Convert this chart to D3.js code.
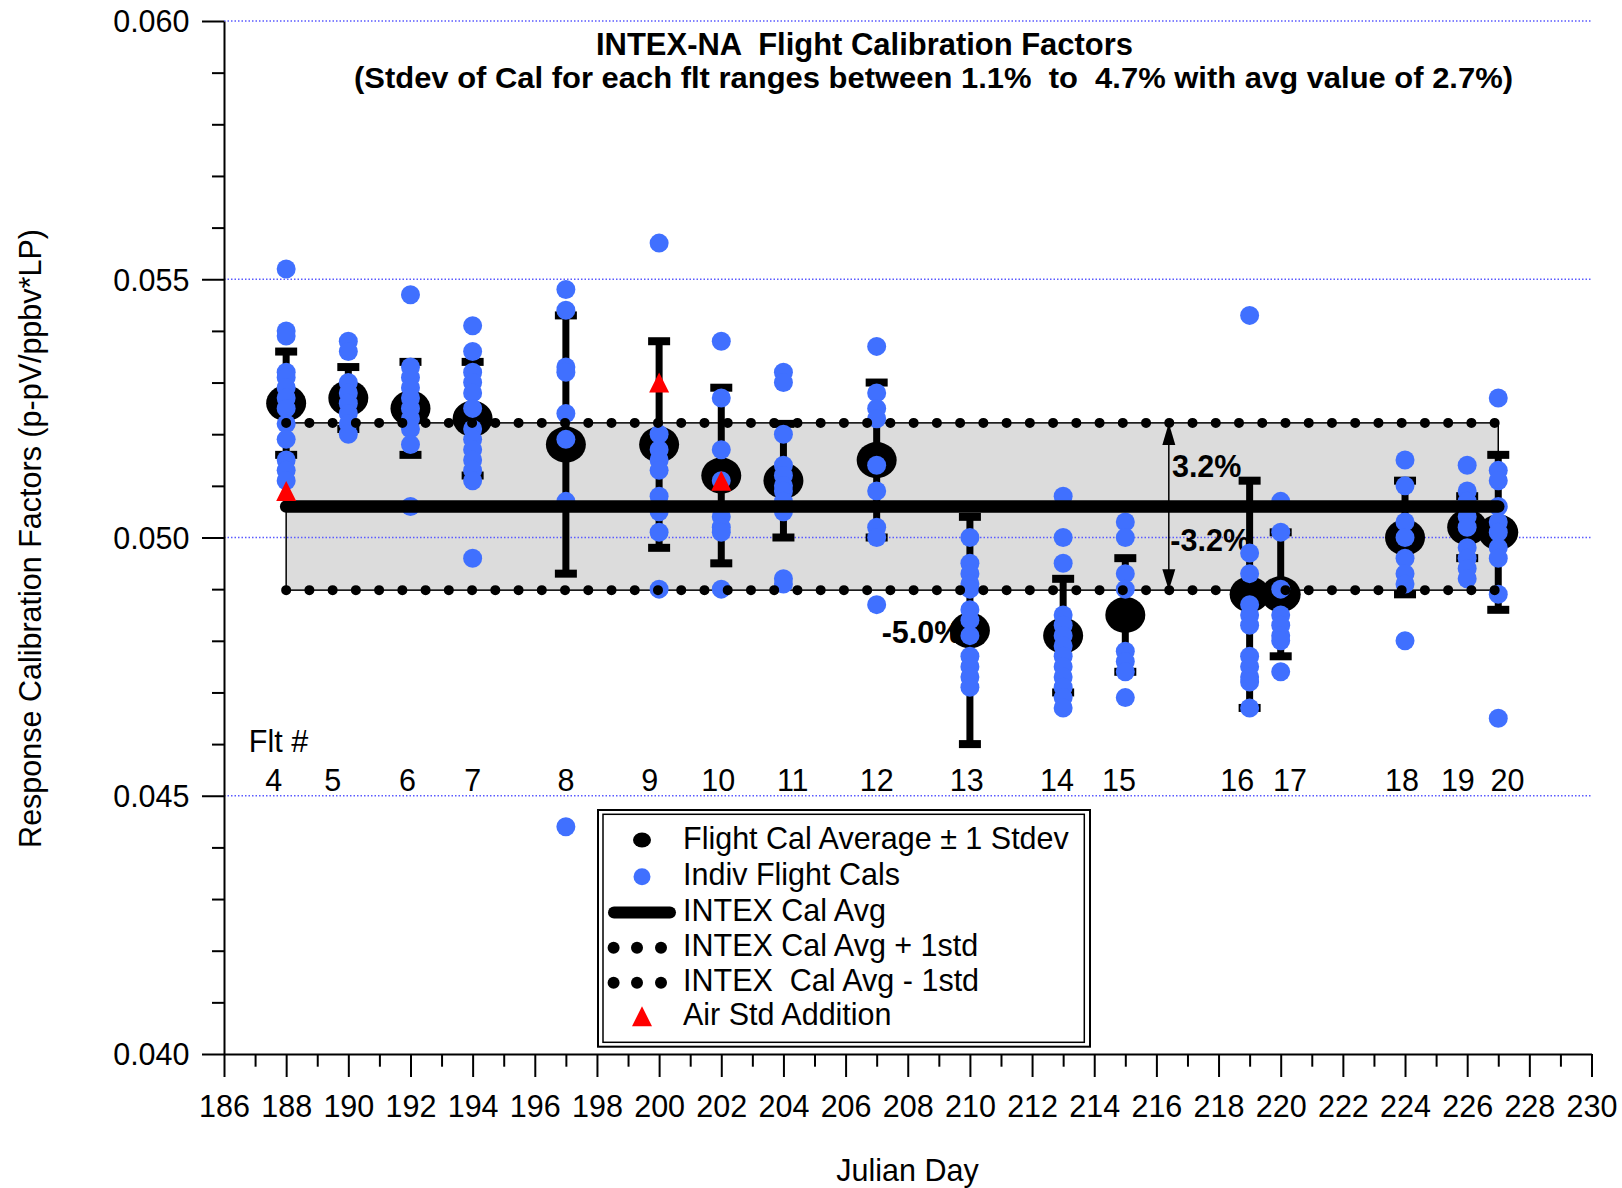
<!DOCTYPE html>
<html>
<head>
<meta charset="utf-8">
<script src="https://cdn.jsdelivr.net/npm/d3@7"></script>
<style>
  html, body { margin: 0; padding: 0; background: #ffffff; }
  svg { display: block; }
  text { font-family: "Liberation Sans", Arial, Helvetica, sans-serif; white-space: pre; }
</style>
</head>
<body>
<svg id="chart" width="1622" height="1188"></svg>
<script>
// ---- Flight calibration data (INTEX-NA) ----
const flightNumbers = [4, 5, 6, 7, 8, 9, 10, 11, 12, 13, 14, 15, 16, 17, 18, 19, 20];
const flightDays    = [188, 190, 192, 194, 197, 200, 202, 204, 207, 210, 213, 215, 219, 220, 224, 226, 227];
// Julian-day position of each flight-number label
const flightLabelDays = [187.6, 189.5, 191.9, 194.0, 197.0, 199.7, 201.9, 204.3, 207.0, 209.9,
                         212.8, 214.8, 218.6, 220.3, 223.9, 225.7, 227.3];

// Flight calibration average and 1 standard deviation
const calAverage = [0.0526, 0.0527, 0.0525, 0.0523, 0.0518, 0.0518, 0.0512, 0.0511, 0.0515,
                    0.0482, 0.0481, 0.0485, 0.0489, 0.0489, 0.0500, 0.0502, 0.0501];
const calStdev   = [0.0010, 0.0006, 0.0009, 0.0011, 0.0025, 0.0020, 0.0017, 0.0011, 0.0015,
                    0.0022, 0.0011, 0.0011, 0.0022, 0.0012, 0.0011, 0.0006, 0.0015];

// Individual flight calibrations, one list per flight
const indivCals = [
  [0.0552, 0.0540, 0.0539, 0.0532, 0.0531, 0.0529, 0.0527, 0.0525, 0.0522, 0.0519, 0.0515, 0.0513, 0.0511],
  [0.0538, 0.0536, 0.0530, 0.0528, 0.0526, 0.0524, 0.0522, 0.0520],
  [0.0547, 0.0533, 0.0531, 0.0529, 0.0527, 0.0525, 0.0523, 0.0521, 0.0518, 0.0506],
  [0.0541, 0.0536, 0.0532, 0.0530, 0.0528, 0.0525, 0.0521, 0.0519, 0.0517, 0.0515, 0.0513, 0.0511, 0.0496],
  [0.0548, 0.0544, 0.0533, 0.0532, 0.0524, 0.0519, 0.0507, 0.0444],
  [0.0557, 0.0520, 0.0517, 0.0515, 0.0513, 0.0508, 0.0505, 0.0501, 0.0490],
  [0.0538, 0.0527, 0.0517, 0.0511, 0.0504, 0.0502, 0.0501, 0.0490],
  [0.0532, 0.0530, 0.0520, 0.0514, 0.0512, 0.0510, 0.0509, 0.0507, 0.0505, 0.0492, 0.0491],
  [0.0537, 0.0528, 0.0525, 0.0523, 0.0514, 0.0509, 0.0502, 0.0500, 0.0487],
  [0.0500, 0.0495, 0.0493, 0.0491, 0.0490, 0.0486, 0.0484, 0.0481, 0.0477, 0.0475, 0.0473, 0.0471],
  [0.0508, 0.0500, 0.0495, 0.0485, 0.0483, 0.0481, 0.0479, 0.0477, 0.0475, 0.0473, 0.0471, 0.0469, 0.0467],
  [0.0503, 0.0500, 0.0493, 0.0490, 0.0478, 0.0476, 0.0474, 0.0469],
  [0.0543, 0.0497, 0.0493, 0.0487, 0.0485, 0.0483, 0.0477, 0.0475, 0.0473, 0.0472, 0.0467],
  [0.0507, 0.0501, 0.0490, 0.0485, 0.0483, 0.0481, 0.0480, 0.0474],
  [0.0515, 0.0510, 0.0503, 0.0500, 0.0496, 0.0493, 0.0491, 0.0480],
  [0.0514, 0.0509, 0.0507, 0.0504, 0.0502, 0.0498, 0.0496, 0.0494, 0.0492],
  [0.0527, 0.0513, 0.0511, 0.0506, 0.0503, 0.0501, 0.0498, 0.0496, 0.0489, 0.0465]
];

// Air standard additions
const airStdDays   = [188, 200, 202];
const airStdValues = [0.0509, 0.0530, 0.0511];

// Campaign-wide average and its +/- 1 std band
const intexAvg = 0.0506;
const intexStdPct = 0.032;
const intexFirstDay = 188;
const intexLastDay = 227;
const bandArrowDay = 216.4;

// Axis ticks
const xTicks = [186, 188, 190, 192, 194, 196, 198, 200, 202, 204, 206, 208, 210, 212, 214,
                216, 218, 220, 222, 224, 226, 228, 230];
const yTicks = [0.040, 0.045, 0.050, 0.055, 0.060];
const gridValues = [0.045, 0.050, 0.055, 0.060];

// Text
const titleText = "INTEX-NA  Flight Calibration Factors";
const subtitleText = "(Stdev of Cal for each flt ranges between 1.1%  to  4.7% with avg value of 2.7%)";
const legendLabels = ["Flight Cal Average \u00B1 1 Stdev", "Indiv Flight Cals", "INTEX Cal Avg",
                      "INTEX Cal Avg + 1std", "INTEX  Cal Avg - 1std", "Air Std Addition"];

// ---- Drawing ----
const svg = d3.select("#chart");
const x = d3.scaleLinear().domain([186, 230]).range([224, 1591.5]);
const y = d3.scaleLinear().domain([0.040, 0.060]).range([1054, 21]);

const FONT = 30.5;
const BLUE = "#4070ff";

const upper = intexAvg * (1 + intexStdPct);
const lower = intexAvg * (1 - intexStdPct);

// gray band fill
svg.append("rect")
  .attr("x", x(intexFirstDay)).attr("y", y(upper))
  .attr("width", x(intexLastDay) - x(intexFirstDay))
  .attr("height", y(lower) - y(upper))
  .attr("fill", "#dcdcdc");

// dotted blue gridlines
svg.append("g").selectAll("line").data(gridValues).join("line")
  .attr("x1", x(186)).attr("x2", x(230))
  .attr("y1", d => y(d)).attr("y2", d => y(d))
  .attr("stroke", "#5a5aff").attr("stroke-width", 1.3)
  .attr("stroke-dasharray", "1.5 2");

// band outline
svg.append("rect")
  .attr("x", x(intexFirstDay)).attr("y", y(upper))
  .attr("width", x(intexLastDay) - x(intexFirstDay))
  .attr("height", y(lower) - y(upper))
  .attr("fill", "none").attr("stroke", "#000").attr("stroke-width", 1.5);

// axes
const gx = svg.append("g").attr("transform", `translate(0,${y(0.040)})`);
gx.call(d3.axisBottom(x).tickValues(xTicks).tickSize(23).tickSizeOuter(0).tickFormat(d3.format("d")));
const gxm = svg.append("g").attr("transform", `translate(0,${y(0.040)})`);
gxm.call(d3.axisBottom(x).tickValues(d3.range(187, 230, 2)).tickSize(12.7).tickSizeOuter(0).tickFormat(""));
gxm.select(".domain").remove();

const gy = svg.append("g").attr("transform", `translate(${x(186)},0)`);
gy.call(d3.axisLeft(y).tickValues(yTicks).tickSize(22).tickSizeOuter(0).tickFormat(d3.format(".3f")));
const gym = svg.append("g").attr("transform", `translate(${x(186)},0)`);
gym.call(d3.axisLeft(y).tickValues(d3.range(41, 60).filter(v => v % 5 !== 0).map(v => v / 1000))
  .tickSize(12).tickSizeOuter(0).tickFormat(""));
gym.select(".domain").remove();

[gx, gxm, gy, gym].forEach(g => {
  g.attr("font-family", null).attr("font-size", null);
  g.selectAll("path, line").attr("stroke", "#000").attr("stroke-width", 2);
});
gx.selectAll("text").attr("y", 62.7).attr("dy", null)
  .attr("font-size", FONT).attr("fill", "#000");
gy.selectAll("text").attr("x", -34.5).attr("dy", "0.36em")
  .attr("font-size", FONT).attr("fill", "#000");

// axis titles
svg.append("text")
  .attr("x", 907.5).attr("y", 1181).attr("text-anchor", "middle")
  .attr("font-size", FONT).text("Julian Day");
svg.append("text")
  .attr("transform", "translate(40.5,538.5) rotate(-90)")
  .attr("text-anchor", "middle").attr("font-size", FONT)
  .text("Response Calibration Factors (p-pV/ppbv*LP)");

// percentage annotations and band arrow
svg.append("text").attr("x", x(207.16)).attr("y", y(0.04795))
  .attr("font-size", FONT).attr("font-weight", "bold").text("-5.0%");

const ax = x(bandArrowDay);
svg.append("line").attr("x1", ax).attr("x2", ax)
  .attr("y1", y(upper)).attr("y2", y(lower))
  .attr("stroke", "#000").attr("stroke-width", 1.5);
svg.append("path")
  .attr("d", `M${ax},${y(upper)} L${ax - 6.5},${y(upper) + 22} L${ax + 6.5},${y(upper) + 22} Z`)
  .attr("fill", "#000");
svg.append("path")
  .attr("d", `M${ax},${y(lower)} L${ax - 6.5},${y(lower) - 21} L${ax + 6.5},${y(lower) - 21} Z`)
  .attr("fill", "#000");
svg.append("text").attr("x", x(216.5)).attr("y", y(0.05118))
  .attr("font-size", FONT).attr("font-weight", "bold").text("3.2%");
svg.append("text").attr("x", x(216.45)).attr("y", y(0.04973))
  .attr("font-size", FONT).attr("font-weight", "bold").text("-3.2%");

// error bars (+/- 1 stdev)
const flights = flightDays.map((d, i) => ({
  day: d, avg: calAverage[i], sd: calStdev[i], cals: indivCals[i], num: flightNumbers[i], labelDay: flightLabelDays[i]
}));
const eb = svg.append("g");
eb.selectAll("line").data(flights).join("line")
  .attr("x1", d => x(d.day)).attr("x2", d => x(d.day))
  .attr("y1", d => y(d.avg + d.sd)).attr("y2", d => y(d.avg - d.sd))
  .attr("stroke", "#000").attr("stroke-width", 7);
const capEnds = flights.flatMap(d => [{ day: d.day, v: d.avg + d.sd }, { day: d.day, v: d.avg - d.sd }]);
eb.selectAll("rect").data(capEnds).join("rect")
  .attr("x", d => x(d.day) - 11).attr("y", d => y(d.v) - 4)
  .attr("width", 22).attr("height", 8).attr("fill", "#000");

// flight averages
svg.append("g").selectAll("ellipse").data(flights).join("ellipse")
  .attr("cx", d => x(d.day)).attr("cy", d => y(d.avg))
  .attr("rx", 20).attr("ry", 18).attr("fill", "#000");

// individual calibrations
const indiv = flights.flatMap(d => d.cals.map(v => ({ day: d.day, v })));
svg.append("g").selectAll("circle").data(indiv).join("circle")
  .attr("cx", d => x(d.day)).attr("cy", d => y(d.v))
  .attr("r", 9.5).attr("fill", BLUE);

// campaign average line
svg.append("line")
  .attr("x1", x(intexFirstDay)).attr("x2", x(intexLastDay))
  .attr("y1", y(intexAvg)).attr("y2", y(intexAvg))
  .attr("stroke", "#000").attr("stroke-width", 12.5).attr("stroke-linecap", "round");

// dotted +/- 1 std lines
svg.append("g").selectAll("line").data([upper, lower]).join("line")
  .attr("x1", x(intexFirstDay)).attr("x2", x(intexLastDay))
  .attr("y1", d => y(d)).attr("y2", d => y(d))
  .attr("stroke", "#000").attr("stroke-width", 10)
  .attr("stroke-linecap", "round").attr("stroke-dasharray", "0 23.24");

// air standard additions
const tri = (cx, cy, h) => `M${cx},${cy - h} L${cx - h},${cy + h} L${cx + h},${cy + h} Z`;
svg.append("g").selectAll("path").data(airStdDays.map((d, i) => ({ day: d, v: airStdValues[i] }))).join("path")
  .attr("d", d => tri(x(d.day), y(d.v), 10)).attr("fill", "#ff0000");

// flight number labels
svg.append("text").attr("x", x(186.8)).attr("y", y(0.04585))
  .attr("font-size", FONT).text("Flt #");
svg.append("g").selectAll("text").data(flights).join("text")
  .attr("x", d => x(d.labelDay)).attr("y", y(0.0451))
  .attr("text-anchor", "middle").attr("font-size", FONT)
  .text(d => d.num);

// title
svg.append("text").attr("x", 596).attr("y", 55)
  .attr("font-size", 31).attr("font-weight", "bold")
  .attr("textLength", 537).attr("lengthAdjust", "spacingAndGlyphs")
  .text(titleText);
svg.append("text").attr("x", 354).attr("y", 88)
  .attr("font-size", 30).attr("font-weight", "bold")
  .attr("textLength", 1159).attr("lengthAdjust", "spacingAndGlyphs")
  .text(subtitleText);

// legend
const lg = svg.append("g");
lg.append("rect").attr("x", 598).attr("y", 810).attr("width", 492).attr("height", 236.7)
  .attr("fill", "#fff").attr("stroke", "#000").attr("stroke-width", 2);
lg.append("rect").attr("x", 603).attr("y", 814.3).attr("width", 481.3).attr("height", 228)
  .attr("fill", "none").attr("stroke", "#000").attr("stroke-width", 1.5);
const rowY = [840, 876.7, 912.5, 947.7, 982.7, 1016.3];
lg.selectAll("text").data(legendLabels).join("text")
  .attr("x", 683).attr("y", (d, i) => rowY[i] + 8.5)
  .attr("font-size", FONT).text(d => d);
lg.append("ellipse").attr("cx", 642).attr("cy", rowY[0]).attr("rx", 9).attr("ry", 7.5).attr("fill", "#000");
lg.append("circle").attr("cx", 642).attr("cy", rowY[1]).attr("r", 8.5).attr("fill", BLUE);
lg.append("line").attr("x1", 614).attr("x2", 670).attr("y1", rowY[2]).attr("y2", rowY[2])
  .attr("stroke", "#000").attr("stroke-width", 12).attr("stroke-linecap", "round");
[rowY[3], rowY[4]].forEach(ry => {
  lg.append("g").selectAll("circle").data([613.6, 637, 661]).join("circle")
    .attr("cx", d => d).attr("cy", ry).attr("r", 6).attr("fill", "#000");
});
lg.append("path").attr("d", tri(642, rowY[5], 10)).attr("fill", "#ff0000");
</script>
</body>
</html>
